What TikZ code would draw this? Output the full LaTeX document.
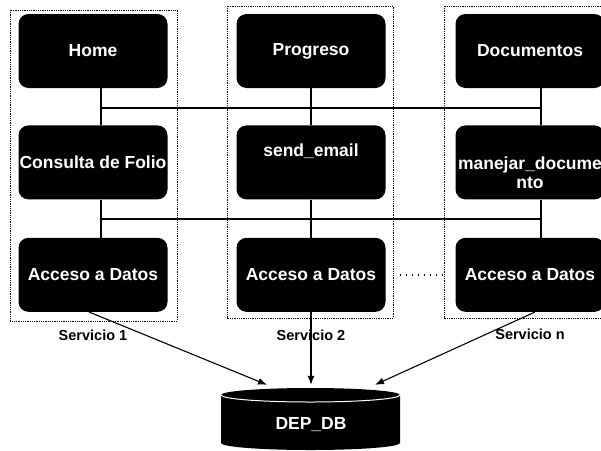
\documentclass[tikz,border=0pt]{standalone}
\usepackage{fontspec}
\setmainfont{Liberation Sans}
\usetikzlibrary{positioning, arrows.meta}

\tikzset{
    svc/.style={fill=black, rounded corners=10pt, minimum width=149pt, minimum height=74pt,
        inner sep=0pt, text=white, align=center, font=\fontsize{17.5}{19.5}\selectfont\bfseries},
    grp/.style={line width=1pt, dash pattern=on 1pt off 0.8pt},
    bus/.style={line width=1.1pt},
    tip/.style={-{Latex[length=9pt, width=7pt]}},
    svclabel/.style={font=\fontsize{14.5}{16}\selectfont\bfseries},
}

\begin{document}
\begin{tikzpicture}[x=1pt, y=-1pt]
    \useasboundingbox (0,0) rectangle (601,450);

    % dotted frames of the three services
    \draw [grp] (10,10) rectangle (177,321);
    \draw [grp] (227,6) rectangle (393,318);
    \draw [grp] (444,6) rectangle (612,318);

    \node [svc] (home) at (93,51) {Home};
    \node [svc, below=37pt of home] (consulta) {Consulta de Folio};
    \node [svc, below=38pt of consulta] (acceso1) {Acceso a Datos};

    \node [svc] (progreso) at (311,51) {Progreso};
    \node [svc, below=37pt of progreso] (email) {send\_email\\\strut};
    \node [svc, below=38pt of email] (acceso2) {Acceso a Datos};

    \node [svc] (documentos) at (530,51) {Documentos};
    \node [svc, below=37pt of documentos] (manejar) {\strut\\manejar\_docume\\nto};
    \node [svc, below=38pt of manejar] (acceso3) {Acceso a Datos};

    \draw [bus] ([xshift=8pt]home.south) -- ([xshift=8pt]consulta.north);
    \draw [bus] ([xshift=8pt]consulta.south) -- ([xshift=8pt]acceso1.north);
    \draw [bus] (progreso.south) -- (email.north);
    \draw [bus] (email.south) -- (acceso2.north);
    \draw [bus] ([xshift=11pt]documentos.south) -- ([xshift=11pt]manejar.north);
    \draw [bus] ([xshift=11pt]manejar.south) -- ([xshift=11pt]acceso3.north);

    % shared buses between the columns
    \coordinate (busa1) at (101,108);
    \coordinate (busa3) at (541,108);
    \coordinate (busb1) at (101,219);
    \coordinate (busb3) at (541,219);
    \draw [bus] (busa1) -- (busa3);
    \draw [bus] (busb1) -- (busb3);

    \draw [line width=1.6pt, dash pattern=on 1.6pt off 4.4pt, shorten <=14pt, shorten >=12pt] (acceso2.east) -- (acceso3.west);

    \node [svclabel] (srv1) at (93,335) {Servicio 1};
    \node [svclabel] (srv2) at (311,335) {Servicio 2};
    \node [svclabel] (srvn) at (530,334) {Servicio n};

    % database cylinder
    \fill [black] (221,395) -- (221,443) arc [start angle=180, end angle=360, x radius=89.5pt, y radius=7pt]
        -- (400,395) arc [start angle=0, end angle=180, x radius=89.5pt, y radius=7pt] -- cycle;
    \draw [white, line width=1pt] (221,395) arc [start angle=180, end angle=360, x radius=89.5pt, y radius=7pt];
    \node [text=white, minimum width=179pt, minimum height=80pt, font=\fontsize{17.5}{20}\selectfont\bfseries] (db) at (311,425) {DEP\_DB};

    \draw [bus, tip] ([xshift=-4pt]acceso1.south) -- ([xshift=-44pt]db.north);
    \draw [bus, tip] (acceso2.south) -- (db.north);
    \draw [bus, tip] ([xshift=5pt]acceso3.south) -- ([xshift=64pt]db.north);

\end{tikzpicture}
\end{document}
